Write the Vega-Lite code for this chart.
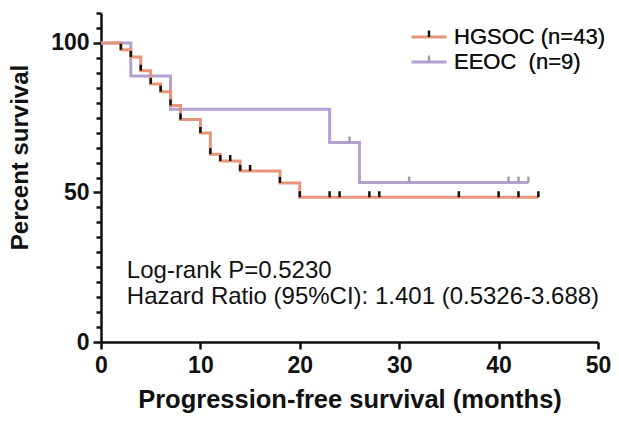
{
  "$schema": "https://vega.github.io/schema/vega-lite/v6.json",
  "width": 497,
  "height": 329,
  "autosize": {"type": "none"},
  "padding": {"left": 101, "top": 13, "right": 21, "bottom": 82},
  "background": "white",
  "config": {
    "view": {"stroke": null},
    "font": "Liberation Sans",
    "axis": {
      "titleFontWeight": "bold",
      "titleColor": "#111",
      "labelFontSize": 23,
      "labelFontWeight": "bold",
      "labelColor": "#111",
      "labelOverlap": false,
      "labelFlush": false,
      "tickWidth": 2.5,
      "tickColor": "#111",
      "domainColor": "#111",
      "domainWidth": 2.5,
      "grid": false
    }
  },
  "datasets": {
    "km": [
      {"group": "EEOC", "month": 0, "surv": 100},
      {"group": "EEOC", "month": 3, "surv": 88.9},
      {"group": "EEOC", "month": 7, "surv": 77.8},
      {"group": "EEOC", "month": 23, "surv": 66.7},
      {"group": "EEOC", "month": 26, "surv": 53.3},
      {"group": "EEOC", "month": 43, "surv": 53.3},
      {"group": "HGSOC", "month": 0, "surv": 100},
      {"group": "HGSOC", "month": 2, "surv": 97.7},
      {"group": "HGSOC", "month": 3, "surv": 95.3},
      {"group": "HGSOC", "month": 4, "surv": 90.7},
      {"group": "HGSOC", "month": 5, "surv": 86.3},
      {"group": "HGSOC", "month": 6, "surv": 83.7},
      {"group": "HGSOC", "month": 7, "surv": 79.1},
      {"group": "HGSOC", "month": 8, "surv": 74.4},
      {"group": "HGSOC", "month": 10, "surv": 69.9},
      {"group": "HGSOC", "month": 11, "surv": 62.8},
      {"group": "HGSOC", "month": 12, "surv": 60.5},
      {"group": "HGSOC", "month": 14, "surv": 57.2},
      {"group": "HGSOC", "month": 18, "surv": 53.2},
      {"group": "HGSOC", "month": 20, "surv": 48.4},
      {"group": "HGSOC", "month": 44, "surv": 48.4}
    ],
    "cens": [
      {"group": "EEOC", "month": 25, "surv": 66.7},
      {"group": "EEOC", "month": 31, "surv": 53.3},
      {"group": "EEOC", "month": 41, "surv": 53.3},
      {"group": "EEOC", "month": 42, "surv": 53.3},
      {"group": "EEOC", "month": 43, "surv": 53.3},
      {"group": "HGSOC", "month": 2, "surv": 97.7},
      {"group": "HGSOC", "month": 3, "surv": 95.3},
      {"group": "HGSOC", "month": 4, "surv": 90.7},
      {"group": "HGSOC", "month": 5, "surv": 86.3},
      {"group": "HGSOC", "month": 6, "surv": 83.7},
      {"group": "HGSOC", "month": 7, "surv": 79.1},
      {"group": "HGSOC", "month": 8, "surv": 74.4},
      {"group": "HGSOC", "month": 10, "surv": 69.9},
      {"group": "HGSOC", "month": 11, "surv": 62.8},
      {"group": "HGSOC", "month": 12, "surv": 60.5},
      {"group": "HGSOC", "month": 13, "surv": 60.5},
      {"group": "HGSOC", "month": 14, "surv": 57.2},
      {"group": "HGSOC", "month": 15, "surv": 57.2},
      {"group": "HGSOC", "month": 18, "surv": 53.2},
      {"group": "HGSOC", "month": 20, "surv": 48.4},
      {"group": "HGSOC", "month": 23, "surv": 48.4},
      {"group": "HGSOC", "month": 24, "surv": 48.4},
      {"group": "HGSOC", "month": 27, "surv": 48.4},
      {"group": "HGSOC", "month": 28, "surv": 48.4},
      {"group": "HGSOC", "month": 36, "surv": 48.4},
      {"group": "HGSOC", "month": 40, "surv": 48.4},
      {"group": "HGSOC", "month": 42, "surv": 48.4},
      {"group": "HGSOC", "month": 44, "surv": 48.4}
    ]
  },
  "layer": [
    {
      "data": {"name": "km"},
      "mark": {"type": "line", "interpolate": "step-after", "strokeWidth": 3},
      "encoding": {
        "x": {
          "field": "month", "type": "quantitative",
          "scale": {"domain": [0, 50], "nice": false},
          "axis": {"values": [0, 10, 20, 30, 40, 50], "title": "Progression-free survival (months)", "titleFontSize": 25.5, "titlePadding": 10, "labelPadding": 5, "tickSize": 7}
        },
        "y": {
          "field": "surv", "type": "quantitative",
          "scale": {"domain": [0, 110], "nice": false},
          "axis": {"values": [0, 5, 10, 15, 20, 25, 30, 35, 40, 45, 50, 55, 60, 65, 70, 75, 80, 85, 90, 95, 100, 105, 110], "labelExpr": "datum.value % 50 === 0 ? datum.label : ''", "title": "Percent survival", "titleFontSize": 24, "titlePadding": 18, "titleY": 144, "labelPadding": 4, "tickSize": {"condition": {"test": "datum.value % 50 === 0", "value": 8}, "value": 5}}
        },
        "color": {
          "field": "group",
          "type": "nominal",
          "sort": "descending",
          "scale": {"range": ["#E6957A", "#B4A0CF"]},
          "legend": {
            "orient": "none", "legendX": 317, "legendY": 13, "title": null, "padding": 0,
            "symbolType": "M-3.5,0H3.5", "symbolSize": 100, "symbolStrokeWidth": 3,
            "labelFontSize": 22, "labelColor": "#111", "labelOffset": 14, "rowPadding": 3,
            "labelExpr": "datum.label == 'HGSOC' ? 'HGSOC (n=43)' : 'EEOC\u00a0 (n=9)'"
          }
        }
      }
    },
    {
      "data": {"name": "cens"},
      "mark": {"type": "tick", "orient": "vertical", "size": 6, "thickness": 2.5, "yOffset": -3, "opacity": 1},
      "encoding": {
        "x": {
          "field": "month", "type": "quantitative",
          "scale": {"domain": [0, 50], "nice": false},
          "axis": {"values": [0, 10, 20, 30, 40, 50], "title": "Progression-free survival (months)", "titleFontSize": 25.5, "titlePadding": 10, "labelPadding": 5, "tickSize": 7}
        },
        "y": {
          "field": "surv", "type": "quantitative",
          "scale": {"domain": [0, 110], "nice": false},
          "axis": {"values": [0, 5, 10, 15, 20, 25, 30, 35, 40, 45, 50, 55, 60, 65, 70, 75, 80, 85, 90, 95, 100, 105, 110], "labelExpr": "datum.value % 50 === 0 ? datum.label : ''", "title": "Percent survival", "titleFontSize": 24, "titlePadding": 18, "titleY": 144, "labelPadding": 4, "tickSize": {"condition": {"test": "datum.value % 50 === 0", "value": 8}, "value": 5}}
        },
        "fill": {
          "field": "group",
          "type": "nominal",
          "sort": "descending",
          "scale": {"range": ["#111111", "#A0A0A0"]},
          "legend": {
            "orient": "none", "legendX": 317, "legendY": 13, "title": null, "padding": 0,
            "symbolType": "M-0.25,0H0.25V-1.3H-0.25Z", "symbolSize": 100, "symbolStrokeWidth": 0, "symbolOpacity": 1,
            "labelFontSize": 22, "labelColor": "#111", "labelOffset": 14, "rowPadding": 3,
            "labelExpr": "datum.label == 'HGSOC' ? 'HGSOC (n=43)' : 'EEOC\u00a0 (n=9)'"
          }
        }
      }
    },
    {
      "data": {"values": [{"note": "Log-rank P=0.5230"}]},
      "mark": {"type": "text", "align": "left", "baseline": "middle", "fontSize": 24, "color": "#111"},
      "encoding": {
        "x": {
          "datum": 2.6, "type": "quantitative",
          "scale": {"domain": [0, 50], "nice": false},
          "axis": {"values": [0, 10, 20, 30, 40, 50], "title": "Progression-free survival (months)", "titleFontSize": 25.5, "titlePadding": 10, "labelPadding": 5, "tickSize": 7}
        },
        "y": {
          "datum": 23.6, "type": "quantitative",
          "scale": {"domain": [0, 110], "nice": false},
          "axis": {"values": [0, 5, 10, 15, 20, 25, 30, 35, 40, 45, 50, 55, 60, 65, 70, 75, 80, 85, 90, 95, 100, 105, 110], "labelExpr": "datum.value % 50 === 0 ? datum.label : ''", "title": "Percent survival", "titleFontSize": 24, "titlePadding": 18, "titleY": 144, "labelPadding": 4, "tickSize": {"condition": {"test": "datum.value % 50 === 0", "value": 8}, "value": 5}}
        },
        "text": {"field": "note"}
      }
    },
    {
      "data": {"values": [{"note": "Hazard Ratio (95%CI): 1.401 (0.5326-3.688)"}]},
      "mark": {"type": "text", "align": "left", "baseline": "middle", "fontSize": 24, "color": "#111"},
      "encoding": {
        "x": {
          "datum": 2.6, "type": "quantitative",
          "scale": {"domain": [0, 50], "nice": false},
          "axis": {"values": [0, 10, 20, 30, 40, 50], "title": "Progression-free survival (months)", "titleFontSize": 25.5, "titlePadding": 10, "labelPadding": 5, "tickSize": 7}
        },
        "y": {
          "datum": 14.9, "type": "quantitative",
          "scale": {"domain": [0, 110], "nice": false},
          "axis": {"values": [0, 5, 10, 15, 20, 25, 30, 35, 40, 45, 50, 55, 60, 65, 70, 75, 80, 85, 90, 95, 100, 105, 110], "labelExpr": "datum.value % 50 === 0 ? datum.label : ''", "title": "Percent survival", "titleFontSize": 24, "titlePadding": 18, "titleY": 144, "labelPadding": 4, "tickSize": {"condition": {"test": "datum.value % 50 === 0", "value": 8}, "value": 5}}
        },
        "text": {"field": "note"}
      }
    }
  ]
}
